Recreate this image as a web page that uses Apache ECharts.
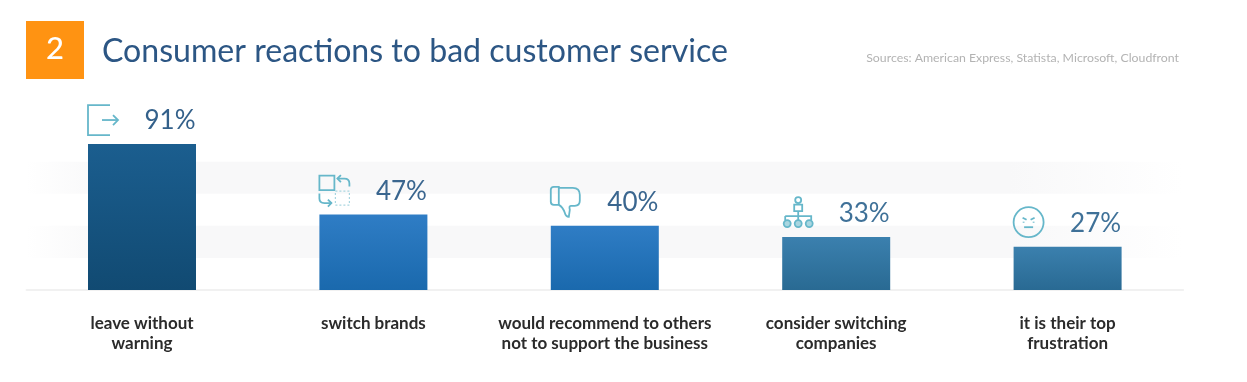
<!DOCTYPE html>
<html><head><meta charset="utf-8">
<style>html,body{margin:0;padding:0;background:#fff}#c{width:1247px;height:382px}</style>
<script src="https://cdn.jsdelivr.net/npm/echarts@6/dist/echarts.min.js"></script>
</head><body><div id="c"></div>
<script>
const categories = ['leave without\nwarning','switch brands','would recommend to others\nnot to support the business','consider switching\ncompanies','it is their top\nfrustration'];
const values = [91,47,40,33,27];
const barTopColors = ['#1b5e8f','#2f7dc5','#2f7dc5','#3b80ae','#3b80ae'];
const barBottomColors = ['#114a72','#1a69ad','#1a69ad','#296a93','#296a93'];
const labelColors = ['#33608a','#3a668f','#3a668f','#3f7198','#3f7198'];
const titleText = 'Consumer reactions to bad customer service';
const sourceText = 'Sources: American Express, Statista, Microsoft, Cloudfront';
const badgeText = '2';

const iconPaths = [
  ['M22,-39H0V-9H22','M14,-24H30','M25,-29L30,-24L25,-19'],
  ['M0,-39H15V-24.5H0Z','M18,-36H25Q30,-36 30,-31V-28','M21.5,-39.5L18,-36L21.5,-32.5','M0,-21V-16Q0,-11.5 5,-11.5H12','M8.5,-15L12,-11.5L8.5,-8'],
  ['M8,-39H3Q0,-39 0,-36V-24Q0,-21 3,-21H8Z','M8,-38H22Q29,-38 29,-31V-25Q29,-20 24,-20H20Q18,-20 19,-16L18,-9Q15,-9 14,-13Q12,-19 8,-21'],
  ['M12,-32.5H20V-26H12Z','M16,-26V-16.5','M3,-21H29V-17','M3,-21V-17','M13,-37a3,3 0 1,0 6,0a3,3 0 1,0 -6,0'],
  ['M0,-24.5a15,15 0 1,0 30,0a15,15 0 1,0 -30,0','M9,-29L13,-27','M21,-29L17,-27','M10,-25V-24','M20,-25V-24','M10.5,-19.5H19.5']
];
const iconDashedPaths = [[],['M16,-23.5H30V-9.5H16Z'],[],[],[]];
const iconFilledPaths = [[],[],[],['M1.5,-13.5a3.5,3.5 0 1,0 7,0a3.5,3.5 0 1,0 -7,0','M12.5,-13.5a3.5,3.5 0 1,0 7,0a3.5,3.5 0 1,0 -7,0','M23.5,-13.5a3.5,3.5 0 1,0 7,0a3.5,3.5 0 1,0 -7,0'],[]];

const chart = echarts.init(document.getElementById('c'));
chart.setOption({
  animation:false,
  backgroundColor:'#ffffff',
  title:[
    {text:titleText,left:102,top:36,padding:0,textStyle:{fontFamily:'Lato',fontWeight:'normal',fontSize:32.1,color:'#2c5684'}},
    {text:sourceText,right:68,top:52,padding:0,textStyle:{fontFamily:'Lato',fontWeight:'normal',fontSize:12.3,color:'#b3b3b3'}}
  ],
  graphic:[
    {type:'rect',left:26,top:21,shape:{width:58,height:58},style:{fill:'#ff9312'},z:5},
    {type:'text',left:46,top:33,style:{text:badgeText,fill:'#fff',font:'500 31px Lato'},z:6}
  ],
  grid:{left:26.3,width:1157,top:129.6,height:160.4,containLabel:false},
  xAxis:{type:'category',data:categories,
    axisTick:{show:false},
    axisLine:{lineStyle:{color:'#ededed',width:1.5}},
    axisLabel:{interval:0,margin:24,fontFamily:'Lato',fontWeight:'bold',fontSize:17,lineHeight:20,color:'#2b2b2b'}},
  yAxis:{type:'value',min:0,max:100,interval:20,
    axisLabel:{show:false},axisLine:{show:false},axisTick:{show:false},splitLine:{show:false},
    splitArea:{show:true,areaStyle:{color:[
      'rgba(255,255,255,0)',
      new echarts.graphic.LinearGradient(0,0,1,0,[
        {offset:0,color:'rgba(248,248,249,0)'},{offset:0.07,color:'#f8f8f9'},
        {offset:0.85,color:'#f8f8f9'},{offset:1,color:'rgba(248,248,249,0)'}])
    ]}}},
  series:[
    {type:'bar',barWidth:108,
     data:values.map((v,i)=>({value:v,
       label:{color:labelColors[i]},
       itemStyle:{color:new echarts.graphic.LinearGradient(0,0,0,1,[{offset:0,color:barTopColors[i]},{offset:1,color:barBottomColors[i]}])}})),
     label:{show:true,position:'top',distance:10,offset:[28,0],formatter:'{c}%',fontFamily:'Lato',fontSize:26}},
    {type:'custom',coordinateSystem:'cartesian2d',silent:true,z:4,
     data:values.map((v,i)=>[i,v]),
     encode:{x:0,y:1},
     renderItem:(params,api)=>{
       const p=api.coord([api.value(0),api.value(1)]);
       const i=params.dataIndex;
       const stroke='#66b7ca';
       const kids=[
         ...iconPaths[i].map(d=>({type:'path',shape:{pathData:d},style:{fill:'none',stroke,lineWidth:1.8}})),
         ...iconDashedPaths[i].map(d=>({type:'path',shape:{pathData:d},style:{fill:'none',stroke:'#a9d6e0',lineWidth:1.2,lineDash:[2,2]}})),
         ...iconFilledPaths[i].map(d=>({type:'path',shape:{pathData:d},style:{fill:'#a9d6e0',stroke,lineWidth:1.8}}))
       ];
       return {type:'group',x:p[0]-54,y:p[1],children:kids};
     }}
  ]
});
</script></body></html>
